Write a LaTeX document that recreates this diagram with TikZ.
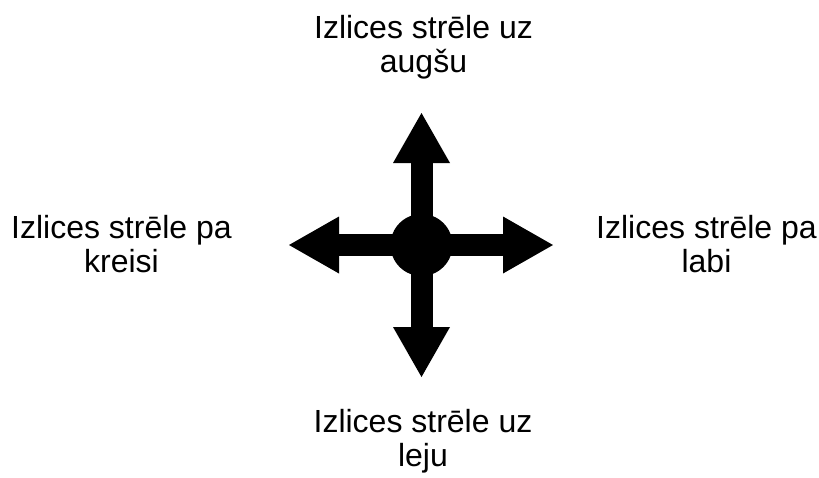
\documentclass[tikz,border=0pt]{standalone}
\usepackage{fontspec}
\setmainfont{Liberation Sans}
\usetikzlibrary{arrows.meta}
\begin{document}
\begin{tikzpicture}[x=1pt,y=-1pt,
  lbl/.style={anchor=base, inner sep=0pt, font=\fontsize{32}{34}\selectfont},
  bigarrow/.style={line width=22pt, black, -{Triangle[length=50pt,width=57pt,line width=0pt]}},
  hub/.style={circle, fill=black, minimum size=62pt, inner sep=0pt}]
\useasboundingbox (0,0) rectangle (819,477);
\fill[white] (0,0) rectangle (819,477);
\node[hub] (c) at (421.5,245) {};
\coordinate (tu) at (421.5,113);
\coordinate (td) at (421.5,377);
\coordinate (tl) at (289,245);
\coordinate (tr) at (553,245);
\draw[bigarrow] (c.center) -- (tu);
\draw[bigarrow] (c.center) -- (td);
\draw[bigarrow] (c.center) -- (tl);
\draw[bigarrow] (c.center) -- (tr);
\node[lbl] (up) at (423.5,38) {\begin{tabular}[t]{@{}c@{}}Izlices strēle uz\\augšu\end{tabular}};
\node[lbl] (left) at (121.5,238) {\begin{tabular}[t]{@{}c@{}}Izlices strēle pa\\kreisi\end{tabular}};
\node[lbl] (right) at (706.5,238) {\begin{tabular}[t]{@{}c@{}}Izlices strēle pa\\labi\end{tabular}};
\node[lbl] (down) at (423,432) {\begin{tabular}[t]{@{}c@{}}Izlices strēle uz\\leju\end{tabular}};
\end{tikzpicture}
\end{document}
